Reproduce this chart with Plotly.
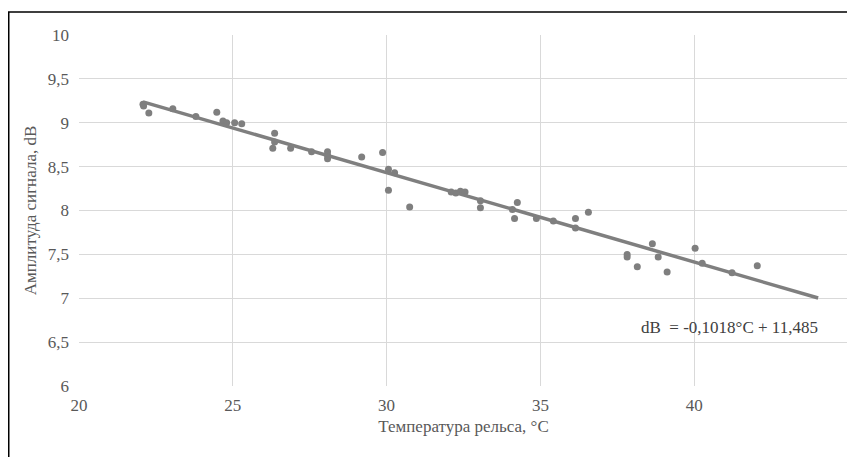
import plotly.graph_objects as go

# Data
temperature = [22.08, 22.1, 22.27, 23.05, 23.8, 24.48, 24.68, 24.8, 25.06, 25.29,
               26.36, 26.36, 26.3, 26.88, 27.56, 28.08, 28.08, 28.08, 29.19, 29.87,
               30.06, 30.26, 30.06, 30.75, 32.1, 32.25, 32.4, 32.55, 33.05, 33.05,
               34.09, 34.25, 34.16, 34.87, 35.42, 36.14, 36.14, 36.56, 37.82, 37.82,
               38.15, 38.64, 38.83, 39.12, 40.03, 40.26, 41.23, 42.05]
amplitude = [9.21, 9.19, 9.11, 9.16, 9.07, 9.12, 9.02, 9.0, 9.0, 8.99,
             8.88, 8.78, 8.71, 8.71, 8.67, 8.67, 8.63, 8.59, 8.61, 8.66,
             8.47, 8.43, 8.23, 8.04, 8.21, 8.2, 8.22, 8.21, 8.11, 8.03,
             8.01, 8.09, 7.91, 7.91, 7.88, 7.91, 7.8, 7.98, 7.5, 7.47,
             7.36, 7.62, 7.47, 7.3, 7.57, 7.4, 7.29, 7.37]

# Linear trend coefficients (from the equation shown on the chart)
trend_slope = -0.1018
trend_intercept = 11.485
trend_range = [22.08, 44.03]

x_ticks = [20, 25, 30, 35, 40, 45]
x_tick_labels = ["20", "25", "30", "35", "40", "45"]
y_ticks = [6, 6.5, 7, 7.5, 8, 8.5, 9, 9.5, 10]
y_tick_labels = ["6", "6,5", "7", "7,5", "8", "8,5", "9", "9,5", "10"]

equation_text = "dB  = -0,1018°C + 11,485"
x_title = "Температура рельса, °C"
y_title = "Амплитуда сигнала, dB"

GREY = "#7f7f7f"
FONT = "Liberation Serif"

trend_y = [trend_slope * t + trend_intercept for t in trend_range]

fig = go.Figure()
fig.add_trace(go.Scatter(
    x=temperature, y=amplitude, mode="markers",
    marker=dict(color=GREY, size=7), showlegend=False, hoverinfo="x+y"))
fig.add_trace(go.Scatter(
    x=trend_range, y=trend_y, mode="lines",
    line=dict(color=GREY, width=3.5), showlegend=False, hoverinfo="skip"))

fig.add_annotation(x=38.2, y=6.67, xref="x", yref="y", text=equation_text,
                   showarrow=False, xanchor="left", yanchor="middle",
                   font=dict(family=FONT, size=17, color="#404040"))

# figure is drawn inside the page's 8px body margin
W, H = 847, 449
L, R, T, B = 71, 7, 27, 71
pw, ph = W - L - R, H - T - B
bottom_px = T + ph
# outer black frame (left and top edges visible)
fig.add_shape(type="rect", xref="paper", yref="paper",
              x0=(0.75 - L) / pw, x1=(W + 10 - L) / pw,
              y0=(bottom_px - (H + 10)) / ph, y1=(bottom_px - 4) / ph,
              line=dict(color="#000000", width=1.5), layer="above")

tick_font = dict(family=FONT, size=17, color="#595959")
title_font = dict(family=FONT, size=17, color="#595959")

fig.update_layout(
    width=W, height=H,
    margin=dict(l=L, r=R, t=T, b=B),
    paper_bgcolor="white", plot_bgcolor="white",
    font=dict(family=FONT, size=17, color="#595959"),
    xaxis=dict(range=[20, 45], tickvals=x_ticks, ticktext=x_tick_labels,
               tickfont=tick_font,
               showgrid=True, gridcolor="#d9d9d9", gridwidth=1,
               zeroline=False, showline=False, ticks="",
               ticklabelstandoff=7,
               title=dict(text=x_title, font=title_font, standoff=6)),
    yaxis=dict(range=[6, 10], tickvals=y_ticks, ticktext=y_tick_labels,
               tickfont=tick_font,
               showgrid=True, gridcolor="#d9d9d9", gridwidth=1,
               zeroline=False, showline=False, ticks="",
               ticklabelstandoff=9,
               title=dict(text=y_title, font=title_font, standoff=6)),
)

fig.write_html("out.html")
